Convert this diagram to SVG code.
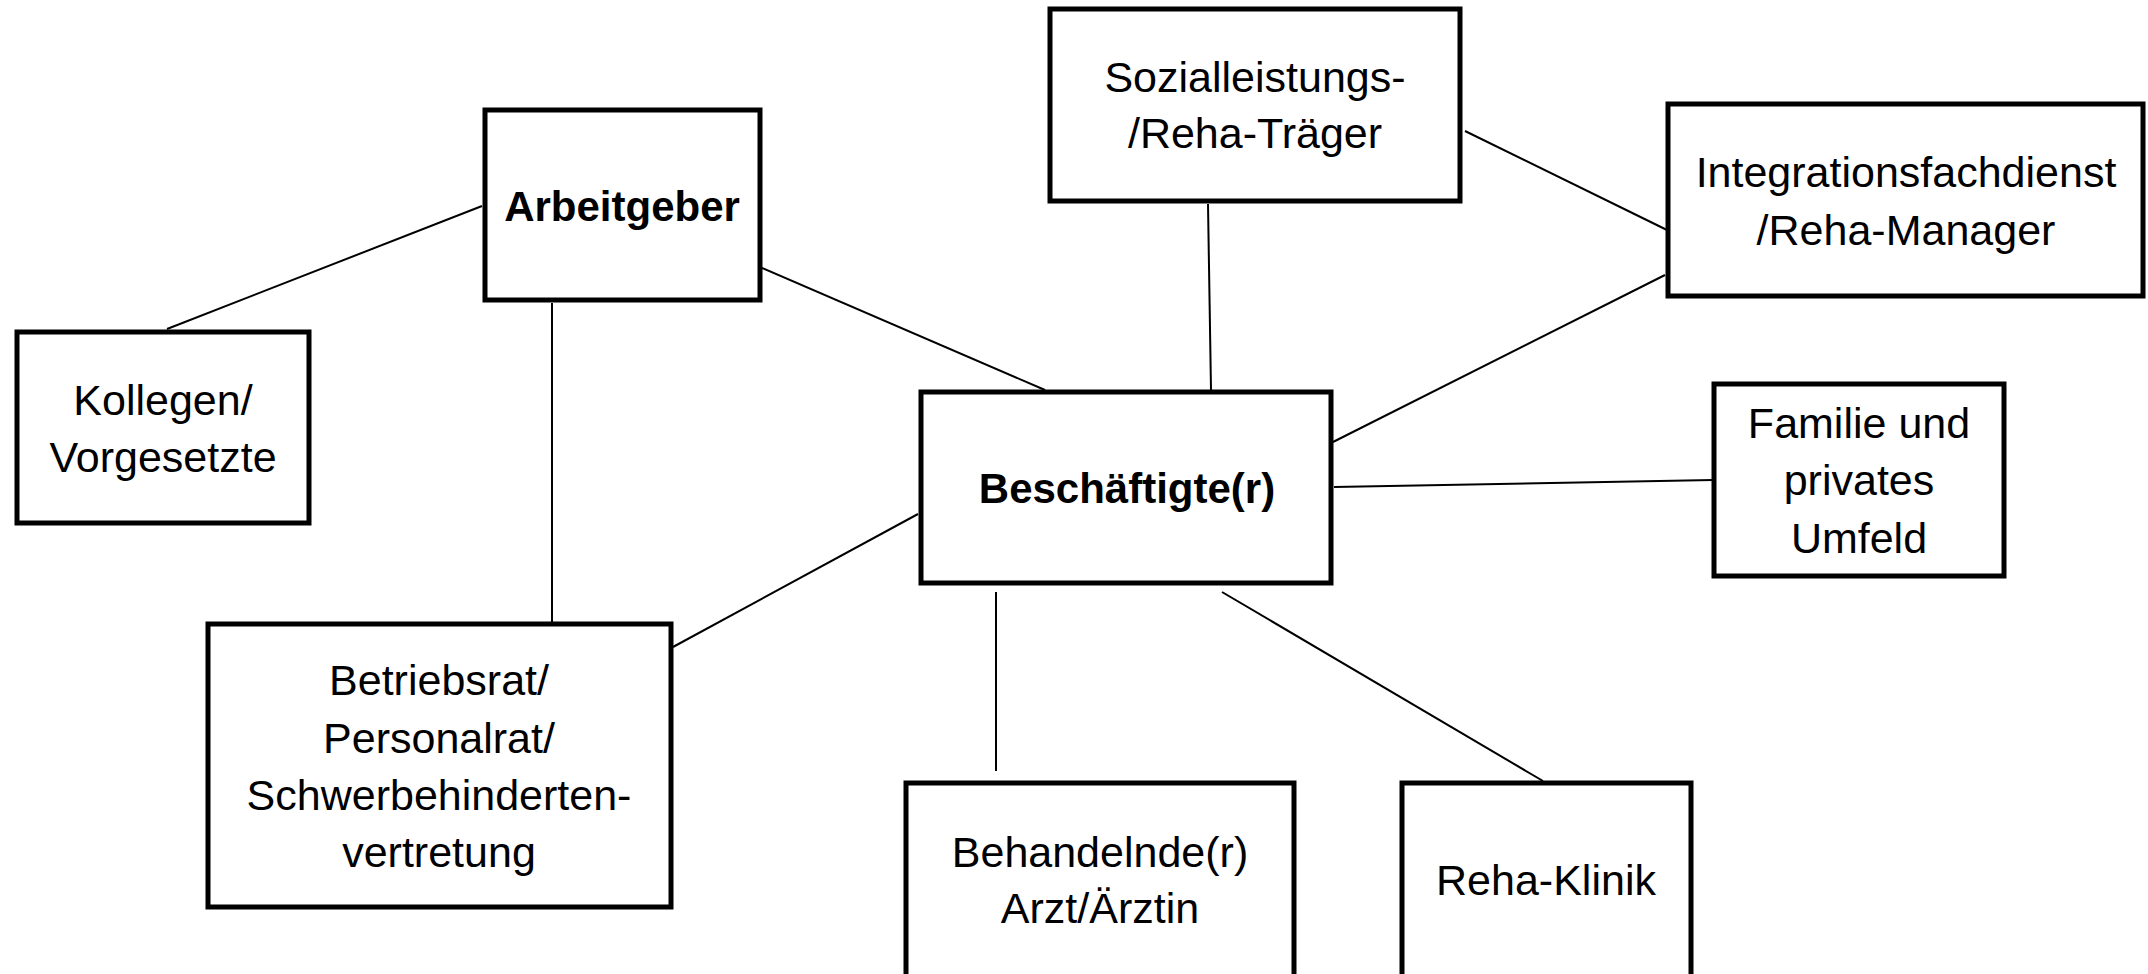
<svg xmlns="http://www.w3.org/2000/svg" width="2148" height="974" viewBox="0 0 2148 974">
<style>
.box{fill:#fff;stroke:#000;stroke-width:5}
.t{font-family:"Liberation Sans",Arial,sans-serif;font-size:43px;fill:#000;text-anchor:middle}
.b{font-weight:bold;font-size:42px}
.c line{stroke:#000;stroke-width:2}
</style>
<rect width="2148" height="974" fill="#fff"/>
<g id="connectors" class="c">
<line x1="167" y1="329" x2="482" y2="206"/>
<line x1="552" y1="303" x2="552" y2="622"/>
<line x1="762" y1="268" x2="1045" y2="390"/>
<line x1="1465" y1="131" x2="1667" y2="230"/>
<line x1="1208" y1="204" x2="1211" y2="390"/>
<line x1="1665" y1="275" x2="1333" y2="442"/>
<line x1="1334" y1="487" x2="1713" y2="480"/>
<line x1="673" y1="647" x2="918" y2="514"/>
<line x1="996" y1="592" x2="996" y2="771"/>
<line x1="1222" y1="592" x2="1543" y2="781"/>
</g>
<g id="arbeitgeber"><rect class="box" x="485" y="110" width="275" height="190"/><text class="t b" x="622" y="221">Arbeitgeber</text></g>
<g id="sozialleistungstraeger"><rect class="box" x="1050" y="9" width="410" height="192"/><text class="t" x="1255" y="92">Sozialleistungs-</text><text class="t" x="1255" y="148">/Reha-Träger</text></g>
<g id="integrationsfachdienst"><rect class="box" x="1668" y="104" width="475" height="192"/><text class="t" x="1906" y="187">Integrationsfachdienst</text><text class="t" x="1906" y="245">/Reha-Manager</text></g>
<g id="kollegen"><rect class="box" x="17" y="332" width="292" height="191"/><text class="t" x="163" y="415">Kollegen/</text><text class="t" x="163" y="472">Vorgesetzte</text></g>
<g id="beschaeftigte"><rect class="box" x="921" y="392" width="410" height="191"/><text class="t b" x="1127" y="503">Beschäftigte(r)</text></g>
<g id="familie"><rect class="box" x="1714" y="384" width="290" height="192"/><text class="t" x="1859" y="438">Familie und</text><text class="t" x="1859" y="495">privates</text><text class="t" x="1859" y="553">Umfeld</text></g>
<g id="betriebsrat"><rect class="box" x="208" y="624" width="463" height="283"/><text class="t" x="439" y="695">Betriebsrat/</text><text class="t" x="439" y="753">Personalrat/</text><text class="t" x="439" y="810">Schwerbehinderten-</text><text class="t" x="439" y="867">vertretung</text></g>
<g id="behandelnde"><rect class="box" x="906" y="783" width="388" height="220"/><text class="t" x="1100" y="867">Behandelnde(r)</text><text class="t" x="1100" y="923">Arzt/Ärztin</text></g>
<g id="rehaklinik"><rect class="box" x="1402" y="783" width="289" height="220"/><text class="t" x="1546" y="895">Reha-Klinik</text></g>
</svg>
